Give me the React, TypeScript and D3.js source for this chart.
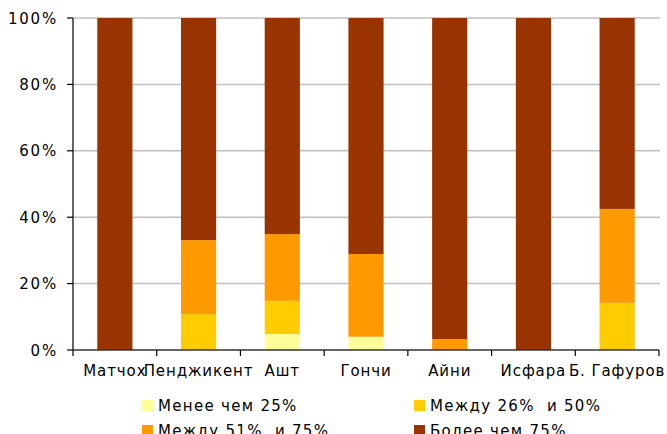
import React from "react";
import * as d3 from "d3";

const categories = ["Матчох", "Пенджикент", "Ашт", "Гончи", "Айни", "Исфара", "Б. Гафуров"];
const seriesNames = ["Менее чем 25%", "Между 26%  и 50%", "Между 51%  и 75%", "Более чем 75%"];
const lessThan25 = [0, 0, 4.8, 4.0, 0, 0, 0];
const between26and50 = [0, 10.8, 10.0, 0, 0, 0, 14.2];
const between51and75 = [0, 22.3, 20.1, 24.9, 3.3, 0, 28.3];
const moreThan75 = [100, 66.9, 65.1, 71.1, 96.7, 100, 57.5];
const yTicks = [0, 20, 40, 60, 80, 100];
const colors = ["#FFFF99", "#FFCC00", "#FF9900", "#993300"];

const FONT = "'DejaVu Sans', Verdana, sans-serif";

export default function App() {
  const W = 667, H = 434;
  const x0 = 73, x1 = 659, yTop = 18, yBot = 350;
  const x = d3.scaleBand<string>().domain(categories).range([x0, x1]).paddingInner(0.58).paddingOuter(0.29);
  const band = d3.scaleBand<string>().domain(categories).range([x0, x1]);
  const y = d3.scaleLinear().domain([0, 100]).range([yBot, yTop]);
  const rows = categories.map((c, i) => ({
    cat: c,
    s0: lessThan25[i], s1: between26and50[i], s2: between51and75[i], s3: moreThan75[i],
  }));
  const stack = d3.stack<any>().keys(["s0", "s1", "s2", "s3"]).offset(d3.stackOffsetExpand);
  const layers = stack(rows);
  const boundaries = [...categories.map((c) => band(c)!), x1];
  const legend = [
    { i: 0, lx: 142, ly: 405 },
    { i: 1, lx: 414, ly: 405 },
    { i: 2, lx: 142, ly: 430 },
    { i: 3, lx: 414, ly: 430 },
  ];
  return (
    <svg width={W} height={H} style={{ position: "absolute", left: 0, top: 0, fontFamily: FONT }}>
      <rect width={W} height={H} fill="#fff" />
      {yTicks.filter((t) => t > 0).map((t) => (
        <line key={t} x1={x0} x2={x1 + 1} y1={y(t)} y2={y(t)} stroke="#c0c0c0" strokeWidth={1.5} />
      ))}
      {layers.map((layer, li) => (
        <g key={li} fill={colors[li]}>
          {layer.map((d, j) => {
            const h = y(d[0] * 100) - y(d[1] * 100);
            if (h <= 0.01) return null;
            return <rect key={j} x={x(categories[j])} width={x.bandwidth()} y={y(d[1] * 100)} height={h} />;
          })}
        </g>
      ))}
      <line x1={x0} x2={x0} y1={yTop} y2={yBot} stroke="#000" strokeWidth={1.2} />
      <line x1={x0} x2={x1} y1={yBot} y2={yBot} stroke="#333" strokeWidth={1.5} />
      {yTicks.map((t) => (
        <g key={t}>
          <line x1={x0 - 6} x2={x0} y1={y(t)} y2={y(t)} stroke="#000" strokeWidth={1.2} />
          <text x={58} y={y(t) + 5.5} textAnchor="end" fontSize={15} letterSpacing={1.8} fill="#000">{t}%</text>
        </g>
      ))}
      {boundaries.map((b, i) => (
        <line key={i} x1={b} x2={b} y1={yBot} y2={yBot + 6} stroke="#000" strokeWidth={1.2} />
      ))}
      {categories.map((c) => (
        <text key={c} x={band(c)! + band.bandwidth() / 2} y={376} textAnchor="middle" fontSize={15} letterSpacing={0.9} fill="#000">{c}</text>
      ))}
      {legend.map(({ i, lx, ly }) => (
        <g key={i}>
          <rect x={lx} y={ly - 5} width={11} height={11} fill={colors[i]} />
          <text x={lx + 16} y={ly + 5.5} fontSize={15} letterSpacing={1.3} fill="#000" style={{ whiteSpace: "pre" }}>{seriesNames[i]}</text>
        </g>
      ))}
    </svg>
  );
}
